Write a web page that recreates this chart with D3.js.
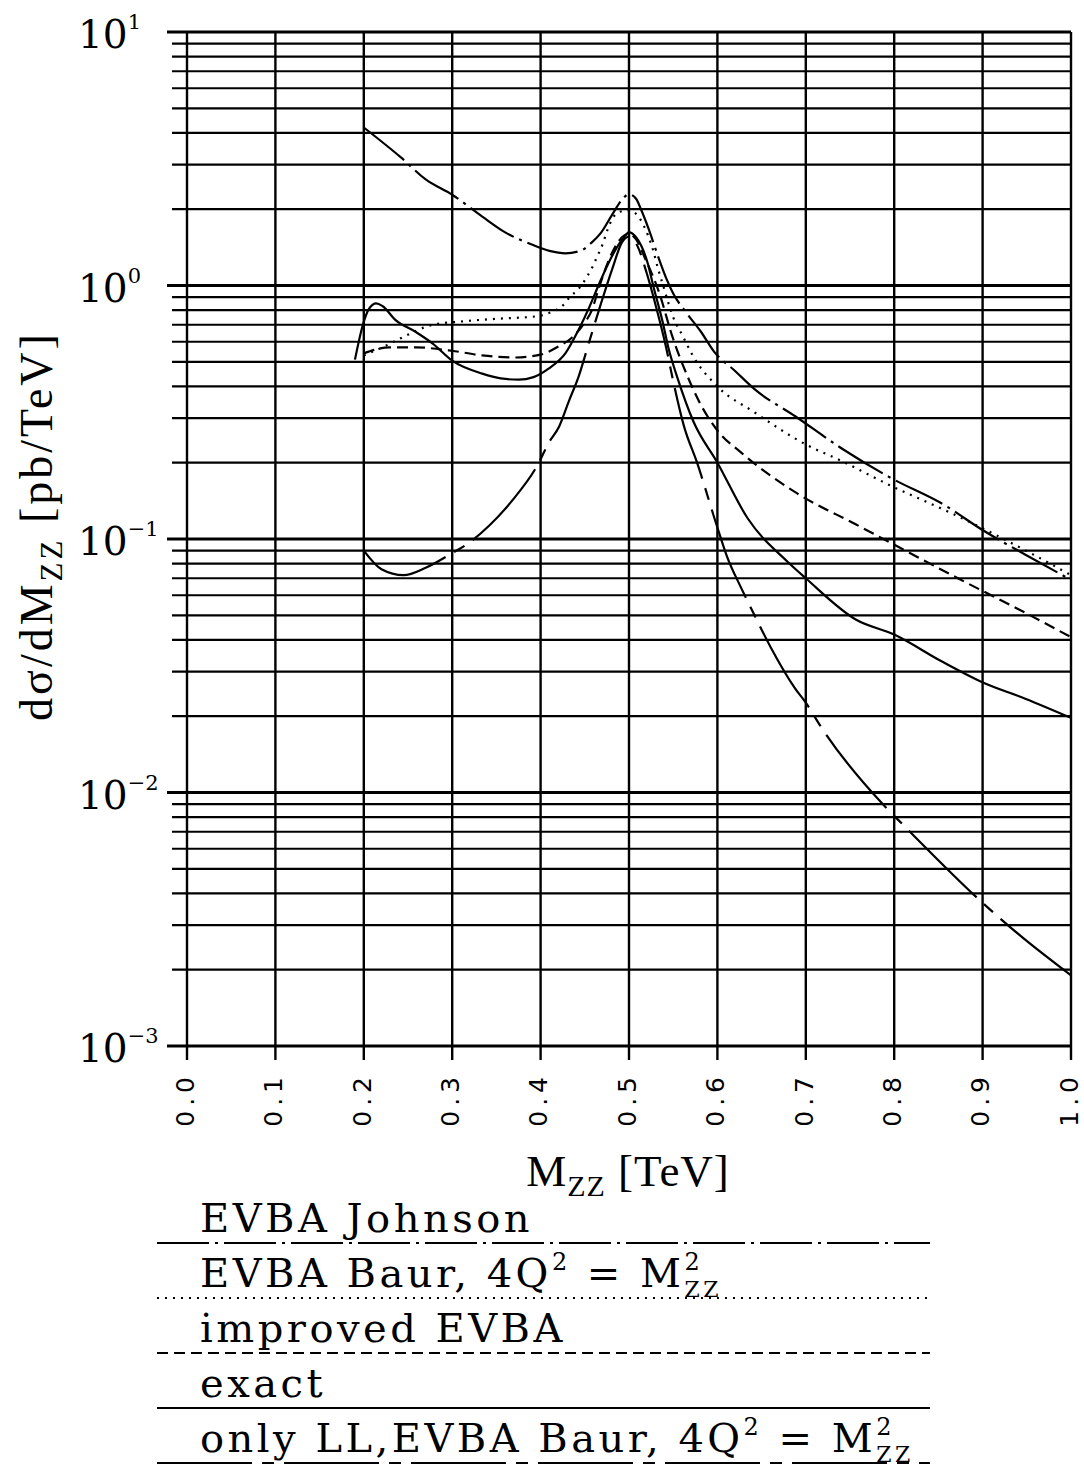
<!DOCTYPE html>
<html>
<head>
<meta charset="utf-8">
<script src="https://cdn.jsdelivr.net/npm/d3@7"></script>
<style>
  body { margin: 0; background: #fff; }
  svg { display: block; }
</style>
</head>
<body>
<div id="chart"></div>
<script>
// axis ticks
const xTicks = [0.0, 0.1, 0.2, 0.3, 0.4, 0.5, 0.6, 0.7, 0.8, 0.9, 1.0];
const yDecades = [1e-3, 1e-2, 1e-1, 1e0, 1e1];
const yExponents = ["\u22123", "\u22122", "\u22121", "0", "1"];

// curves: [M_ZZ (TeV), dsigma/dM_ZZ (pb/TeV)]
const evbaJohnson = [
  [0.200, 4.20], [0.242, 3.20], [0.270, 2.62], [0.300, 2.28], [0.334, 1.87],
  [0.360, 1.62], [0.390, 1.45], [0.410, 1.37], [0.428, 1.34], [0.445, 1.37],
  [0.458, 1.48], [0.468, 1.61], [0.482, 1.93], [0.492, 2.18], [0.500, 2.29],
  [0.508, 2.20], [0.514, 1.98], [0.522, 1.68], [0.533, 1.30], [0.543, 1.05],
  [0.550, 0.93], [0.565, 0.78], [0.581, 0.66], [0.596, 0.55], [0.620, 0.46],
  [0.642, 0.39], [0.688, 0.305], [0.742, 0.226], [0.795, 0.175], [0.857, 0.136],
  [0.899, 0.109], [0.949, 0.0865], [1.000, 0.069]
];
const evbaBaur = [
  [0.200, 0.53], [0.221, 0.57], [0.244, 0.625], [0.278, 0.70], [0.308, 0.72],
  [0.353, 0.74], [0.394, 0.755], [0.410, 0.78], [0.426, 0.84], [0.433, 0.90],
  [0.443, 0.97], [0.453, 1.09], [0.459, 1.19], [0.464, 1.30], [0.470, 1.45],
  [0.476, 1.67], [0.481, 1.83], [0.489, 1.95], [0.500, 1.98], [0.513, 1.82],
  [0.522, 1.56], [0.528, 1.35], [0.533, 1.16], [0.539, 0.99], [0.544, 0.865],
  [0.550, 0.75], [0.561, 0.63], [0.572, 0.53], [0.600, 0.40], [0.642, 0.316],
  [0.700, 0.236], [0.738, 0.205], [0.795, 0.163], [0.872, 0.123], [0.949, 0.090],
  [1.000, 0.072]
];
const improvedEvba = [
  [0.200, 0.54], [0.229, 0.57], [0.259, 0.57], [0.296, 0.555], [0.334, 0.53],
  [0.371, 0.52], [0.401, 0.535], [0.420, 0.575], [0.436, 0.625], [0.448, 0.70],
  [0.458, 0.80], [0.466, 0.98], [0.481, 1.35], [0.492, 1.55], [0.500, 1.60],
  [0.508, 1.52], [0.519, 1.26], [0.534, 0.94], [0.549, 0.63], [0.566, 0.44],
  [0.580, 0.345], [0.600, 0.268], [0.627, 0.219], [0.688, 0.153], [0.757, 0.114],
  [0.795, 0.097], [0.872, 0.070], [0.949, 0.051], [1.000, 0.041]
];
const exact = [
  [0.190, 0.51], [0.199, 0.70], [0.206, 0.81], [0.214, 0.85], [0.221, 0.83],
  [0.236, 0.73], [0.259, 0.655], [0.278, 0.59], [0.300, 0.505], [0.334, 0.449],
  [0.355, 0.43], [0.375, 0.425], [0.392, 0.435], [0.409, 0.47], [0.428, 0.54],
  [0.444, 0.68], [0.455, 0.82], [0.467, 1.03], [0.481, 1.31], [0.493, 1.53],
  [0.500, 1.62], [0.508, 1.55], [0.521, 1.23], [0.528, 0.98], [0.538, 0.72],
  [0.545, 0.56], [0.555, 0.43], [0.573, 0.29], [0.600, 0.20], [0.634, 0.121],
  [0.680, 0.081], [0.700, 0.070], [0.757, 0.048], [0.800, 0.042], [0.853, 0.033],
  [0.899, 0.0273], [0.949, 0.0234], [1.000, 0.0197]
];
const onlyLL = [
  [0.200, 0.090], [0.220, 0.076], [0.245, 0.072], [0.270, 0.077], [0.300, 0.088],
  [0.317, 0.0955], [0.342, 0.113], [0.368, 0.142], [0.398, 0.20], [0.409, 0.239],
  [0.421, 0.278], [0.432, 0.35], [0.443, 0.437], [0.455, 0.60], [0.466, 0.80],
  [0.481, 1.16], [0.492, 1.48], [0.500, 1.56], [0.510, 1.42], [0.520, 1.12],
  [0.530, 0.84], [0.542, 0.57], [0.550, 0.42], [0.562, 0.28], [0.577, 0.20],
  [0.600, 0.111], [0.611, 0.085], [0.627, 0.064], [0.642, 0.050], [0.661, 0.037],
  [0.688, 0.0257], [0.700, 0.0226], [0.717, 0.0182], [0.787, 0.0090], [0.811, 0.0074],
  [0.905, 0.00354], [0.944, 0.0027], [1.000, 0.0019]
];

// legend labels, parts: plain / sup / sub
const legendLabels = [
  [["EVBA Johnson"]],
  [["EVBA Baur, 4Q"], ["2", "sup"], [" = M"], ["2", "sup"], ["ZZ", "sub"]],
  [["improved EVBA"]],
  [["exact"]],
  [["only LL,EVBA Baur, 4Q"], ["2", "sup"], [" = M"], ["2", "sup"], ["ZZ", "sub"]]
];

const series = [evbaJohnson, evbaBaur, improvedEvba, exact, onlyLL];
const dashes = ["52,6,3,6", "2,6", "11,6", null, "95,10,12,10"];

const width = 1084, height = 1468;
const svg = d3.select("#chart").append("svg")
  .attr("width", width)
  .attr("height", height)
  .style("font-family", "'DejaVu Serif', serif");

const x = d3.scaleLinear().domain([0, 1]).range([187, 1071]);
const y = d3.scaleLog().domain([1e-3, 10]).range([1046, 32]);

const isDecade = d => Math.abs(Math.log10(d) - Math.round(Math.log10(d))) < 1e-9;

// horizontal grid (every log tick), decades a bit heavier and longer
const grid = svg.append("g");
grid.selectAll("line.h")
  .data(y.ticks())
  .join("line")
  .attr("class", "h")
  .attr("x1", d => isDecade(d) ? 167 : 172)
  .attr("x2", x(1))
  .attr("y1", d => y(d))
  .attr("y2", d => y(d))
  .attr("stroke", "#000")
  .attr("stroke-width", d => isDecade(d) ? 3 : 2.2);

// vertical grid, running past the bottom as ticks
grid.selectAll("line.v")
  .data(xTicks)
  .join("line")
  .attr("class", "v")
  .attr("x1", d => x(d))
  .attr("x2", d => x(d))
  .attr("y1", y(10))
  .attr("y2", y(1e-3) + 14)
  .attr("stroke", "#000")
  .attr("stroke-width", 2.4);

// y tick labels 10^n
const yl = svg.append("g").selectAll("text")
  .data(yDecades)
  .join("text")
  .attr("x", 78)
  .attr("y", d => y(d) + 16)
  .attr("font-size", 39)
  .text("10");
yl.append("tspan")
  .attr("dy", -19)
  .attr("font-size", 21)
  .text((d, i) => yExponents[i]);

// x tick labels, rotated
svg.append("g").selectAll("text")
  .data(xTicks)
  .join("text")
  .attr("transform", d => `translate(${x(d)},1072) rotate(-90)`)
  .attr("text-anchor", "end")
  .attr("dy", "0.27em")
  .attr("font-family", "'DejaVu Sans', sans-serif")
  .attr("font-size", 25)
  .attr("letter-spacing", 5)
  .text(d => d.toFixed(1));

// axis titles
const xt = svg.append("text")
  .attr("x", 628)
  .attr("y", 1186)
  .attr("text-anchor", "middle")
  .attr("font-family", "'Liberation Serif', serif")
  .attr("font-size", 45)
  .attr("letter-spacing", 1);
xt.append("tspan").text("M");
xt.append("tspan").attr("font-size", 30).attr("dy", 10).text("ZZ");
xt.append("tspan").attr("dy", -10).text(" [TeV]");

const yt = svg.append("text")
  .attr("transform", "translate(52,526) rotate(-90)")
  .attr("text-anchor", "middle")
  .attr("font-family", "'Liberation Serif', serif")
  .attr("font-size", 46)
  .attr("letter-spacing", 3);
yt.append("tspan").text("d\u03c3/dM");
yt.append("tspan").attr("font-size", 31).attr("dy", 10).text("ZZ");
yt.append("tspan").attr("dy", -10).text(" [pb/TeV]");

// curves
const line = d3.line()
  .x(d => x(d[0]))
  .y(d => y(d[1]))
  .curve(d3.curveMonotoneX);

svg.append("g").selectAll("path")
  .data(series)
  .join("path")
  .attr("d", line)
  .attr("fill", "none")
  .attr("stroke", "#000")
  .attr("stroke-width", 2.2)
  .attr("stroke-dasharray", (d, i) => dashes[i]);

// legend below the plot
const legendY = [1243, 1298, 1353, 1408, 1463];
const lg = svg.append("g");
lg.selectAll("line")
  .data(legendY)
  .join("line")
  .attr("x1", 157)
  .attr("x2", 930)
  .attr("y1", d => d)
  .attr("y2", d => d)
  .attr("stroke", "#000")
  .attr("stroke-width", 2.2)
  .attr("stroke-dasharray", (d, i) => dashes[i]);

const lt = lg.selectAll("text")
  .data(legendLabels)
  .join("text")
  .attr("x", 200)
  .attr("y", (d, i) => legendY[i] - 11)
  .attr("font-size", 40);

// plain parts go into the label; the stacked 2 / ZZ pairs get their own small texts
lt.each(function(parts, i) {
  const t = d3.select(this);
  parts.forEach(p => {
    if (!p[1]) t.append("tspan").attr("class", "plain").text(p[0]);
    else t.append("tspan").attr("class", p[1]).attr("font-size", 24)
      .attr("dy", p[1] === "sup" ? -17 : 0).text(p[0]);
  });
});

// stretch legend spacing to match the wide original typesetting
const w0 = lt.nodes()[0].getComputedTextLength();
const ls = Math.max(0, (333 - w0) / 12);
lt.attr("letter-spacing", ls);

// reset baseline after each superscript, move subscripts under the preceding superscript
lt.each(function() {
  const t = d3.select(this);
  const spans = t.selectAll("tspan").nodes();
  spans.forEach((s, k) => {
    const prev = spans[k - 1];
    if (!prev) return;
    const cls = s.getAttribute("class");
    const pcls = prev.getAttribute("class");
    if (cls === "plain" && pcls === "sup") d3.select(s).attr("dy", 17);
    if (cls === "sub" && pcls === "sup") {
      const base = this.getAttribute("y");
      const sx = this.getStartPositionOfChar(
        spans.slice(0, k - 1).reduce((n, e) => n + e.textContent.length, 0)).x;
      d3.select(s).attr("x", sx).attr("dy", 27).attr("font-size", 22);
    }
  });
});
</script>
</body>
</html>
